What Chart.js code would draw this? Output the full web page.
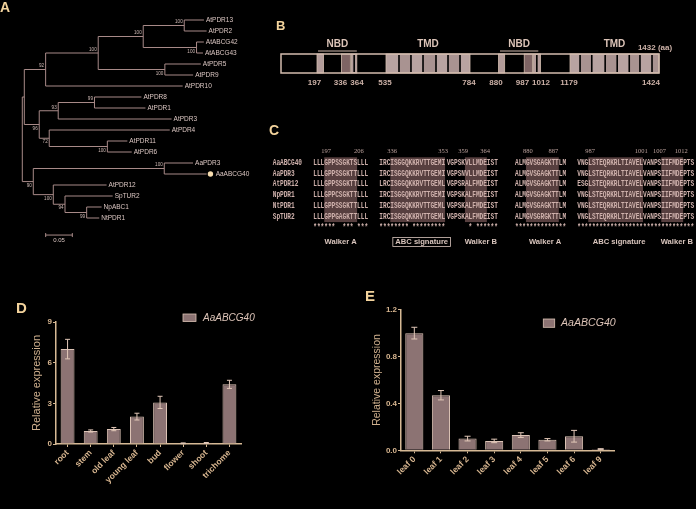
<!DOCTYPE html>
<html><head><meta charset="utf-8">
<script src="https://cdn.jsdelivr.net/npm/chart.js@4.4.1/dist/chart.umd.min.js"></script>
<style>
html,body{margin:0;padding:0;background:#000;}
body{position:relative;width:696px;height:509px;overflow:hidden;}
canvas{position:absolute;}
.pl{position:absolute;font-family:"Liberation Sans",Arial,sans-serif;font-weight:bold;color:#f3d39c;line-height:1;}
</style></head><body>
<canvas id="cA" width="260" height="250" style="left:0;top:0"></canvas>
<canvas id="cB" width="436" height="70" style="left:260px;top:30px"></canvas>
<canvas id="cC" width="436" height="115" style="left:260px;top:140px"></canvas>
<canvas id="cD" width="262" height="219" style="left:0;top:290px"></canvas>
<canvas id="cE" width="346" height="219" style="left:350px;top:290px"></canvas>
<div class="pl" style="left:0px;top:0px;font-size:14px">A</div>
<div class="pl" style="left:276px;top:19px;font-size:13px">B</div>
<div class="pl" style="left:269px;top:123px;font-size:14px">C</div>
<div class="pl" style="left:16px;top:300px;font-size:15px">D</div>
<div class="pl" style="left:365px;top:288px;font-size:15px">E</div>
<script>
// ================= DATA =================
// Panel A: phylogenetic tree (Newick: branch lengths, bootstrap support)
const treeNewick = "((((((AtPDR13:0.037,AtPDR2:0.042)100:0.0769,(AtABCG42:0.0137,AtABCG43:0.012)100:0.100)100:0.0844,(AtPDR5:0.0675,AtPDR9:0.053)100:0.125)100:0.0986,AtPDR10:0.257)92:0.040,(((AtPDR8:0.088,AtPDR1:0.0956)99:0.068,AtPDR3:0.2126)93:0.0356,(AtPDR4:0.226,(AtPDR11:0.0375,AtPDR6:0.0457)100:0.109)72:0.01875)96:0.028):0.00375,((AaPDR3:0.054,AaABCG40:0.0795)100:0.2456,(AtPDR12:0.100,(SpTUR2:0.0894,(NpABC1:0.028,NtPDR1:0.0236)99:0.0406)94:0.022)100:0.0375)90:0.0206);";
const markedLeaf = "AaABCG40";
const scaleBarLength = 0.05;

// Panel B: domain structure (aa positions)
const proteinLength = 1432;
const boundaryTicks = [197, 336, 364, 535, 784, 880, 987, 1012, 1179, 1424];
const nbdSpans = [[210, 362], [892, 1007]];
const tmdSpans = [[535, 784], [1179, 1432]];
const lightBlocks = [[205, 240], [353, 362], [886, 911], [1000, 1010]];
const darkBlocks = [[336, 351], [988, 999]];
const tmStripes = [573.5, 609, 644.7, 683.2, 718.8, 754.4, 1209, 1244, 1284, 1320, 1356, 1388, 1424];
const nbdStripes = [357.5, 1005];
// drawn diagram is not to scale: aa breakpoints and their relative place along the bar
const diagramAa   = [0, 197, 336, 364, 535, 784, 880, 987, 1012, 1179, 1424, 1432];
const diagramFrac = [0, 0.0913, 0.1601, 0.2037, 0.2778, 0.5, 0.5714, 0.6415, 0.6905, 0.7646, 0.9815, 1];

// Panel C: alignment
const seqNames = ["AaABCG40", "AaPDR3", "AtPDR12", "NpPDR1", "NtPDR1", "SpTUR2"];
const seqBlocks = [
  ["LLLGPPSSGKTSLLL", "IRCISGGQKKRVTTGEMI", "VGPSKVLLMDEIST", "ALMGVSGAGKTTLM", "VNGLSTEQRKRLTIAVELVANPSIIFMDEPTS"],
  ["LLLGPPSSGKTTLLL", "IRCISGGQKKRVTTGEMI", "VGPSNVLLMDEIST", "ALMGVSGAGKTTLM", "VNGLSTEQRKRLTIAVELVANPSIIFMDEPTS"],
  ["LLLGPPSSGKTTLLL", "LRCISGGQKKRVTTGEML", "VGPSRALFMDEIST", "ALMGVSGAGKTTLM", "ESGLSTEQRKRLTIAVELVANPSIIFMDEPTS"],
  ["LLLGPPCSGKTTLLL", "IRCISGGQKKRVTTGEMI", "VGPSKALFMDEIST", "ALMGVSGAGKTTLM", "VNGLSTEQRKRLTIAVELVANPSIIFMDEPTS"],
  ["LLLGPPSSGKTTLLL", "IRCISGGQKKRVTTGEML", "VGPSKALFMDEIST", "ALMGVSGAGKTTLM", "VNGLSTEQRKRLTIAVELVANPSIIFMDEPTS"],
  ["LLLGPPGAGKTTLLL", "IRCISGGQKKRVTTGEML", "VGPSKALFMDEIST", "ALMGVSGRGKTTLM", "VNGLSTEQRKRLTIAVELVANPSIIFMDEPTS"]
];
const seqStars = ["******  *** ***", "******** *********", "      * ******", "**************", "********************************"];
const seqNumbers = [[0, 3, "197"], [0, 12, "206"], [1, 3, "336"], [1, 17, "353"], [2, 4, "359"], [2, 10, "364"],
                    [3, 3, "880"], [3, 10, "887"], [4, 3, "987"], [4, 17, "1001"], [4, 22, "1007"], [4, 28, "1012"]];
const shadedCols = [[0, 3, 11], [1, 3, 17], [2, 5, 10], [3, 3, 11], [4, 3, 17], [4, 23, 28]];
const motifLabels = ["Walker A", "ABC signature", "Walker B", "Walker A", "ABC signature", "Walker B"];
const boxedMotif = 1;

// Panel D: tissues
const tissues = ["root", "stem", "old leaf", "young leaf", "bud", "flower", "shoot", "trichome"];
const tissueExpr = [7.0, 0.96, 1.10, 2.02, 3.07, 0.05, 0.08, 4.40];
const tissueErr  = [0.72, 0.08, 0.12, 0.25, 0.45, 0.03, 0.03, 0.30];
const tissueTicks = [0, 3, 6, 9];

// Panel E: leaves
const leaves = ["leaf 0", "leaf 1", "leaf 2", "leaf 3", "leaf 4", "leaf 5", "leaf 6", "leaf 9"];
const leafExpr = [1.00, 0.47, 0.10, 0.08, 0.13, 0.09, 0.12, 0.01];
const leafErr  = [0.05, 0.04, 0.02, 0.015, 0.02, 0.01, 0.05, 0.004];
const leafTicks = [0, 0.4, 0.8, 1.2];

const seriesName = "AaABCG40";

// ================= STYLE / LAYOUT =================
const SANS = '"Liberation Sans", Arial, sans-serif';
Chart.defaults.font.family = SANS;
const AX = '#d6b995', TXT = '#d8b690', BAR = '#8c7373', BAR_EDGE = '#dcc3b5', ERR = '#e2c8b8';
const TREE_LINE = '#a88a88', TREE_TXT = '#dcc7c3';
const C_TXT = '#cfb1ac', C_SHADE = '#573f3f';
const blockStartCols = [0, 18.1, 36.55, 55.26, 72.33];
const motifCols = [7.5, 29.7, 45.9, 63.5, 83.8, 99.6];

function interp(v, xs, ys) {
  if (v <= xs[0]) return ys[0];
  for (let i = 1; i < xs.length; i++) {
    if (v <= xs[i]) return ys[i-1] + (v - xs[i-1]) / (xs[i] - xs[i-1]) * (ys[i] - ys[i-1]);
  }
  return ys[ys.length - 1];
}
class PiecewiseScale extends Chart.LinearScale {
  getPixelForValue(v) { return this.left + interp(v, diagramAa, diagramFrac) * (this.right - this.left); }
}
PiecewiseScale.id = 'piecewise';
PiecewiseScale.defaults = Chart.LinearScale.defaults;
Chart.register(PiecewiseScale);

const baseOpts = {responsive: false, animation: false, devicePixelRatio: 1,
  plugins: {legend: {display: false}, tooltip: {enabled: false}}};

// ================= PANEL A =================
function parseNewick(s) {
  let i = 0;
  function node() {
    const n = {c: []};
    if (s[i] === '(') {
      i++; n.c.push(node());
      while (s[i] === ',') { i++; n.c.push(node()); }
      i++;
    }
    let lab = '';
    while (i < s.length && !':,);'.includes(s[i])) lab += s[i++];
    n.bl = 0;
    if (s[i] === ':') { i++; let num = ''; while (i < s.length && !',);'.includes(s[i])) num += s[i++]; n.bl = parseFloat(num); }
    if (n.c.length) n.bs = lab; else n.name = lab;
    return n;
  }
  return node();
}
const treeRoot = parseNewick(treeNewick);
let leafCounter = 0;
(function lay(n, px) {
  n.px = px; n.x = px + n.bl;
  if (!n.c.length) n.y = leafCounter++;
  else { n.c.forEach((ch, k) => { ch.first = (k === 0); lay(ch, n.x); }); n.y = (n.c[0].y + n.c[n.c.length-1].y) / 2; }
})(treeRoot, 0);

const treePlugin = {id: 'tree', afterDraw(chart) {
  const {ctx, scales: {x, y}} = chart;
  const X = v => x.getPixelForValue(v), Y = v => y.getPixelForValue(v);
  ctx.save();
  ctx.strokeStyle = TREE_LINE; ctx.lineWidth = 1;
  (function draw(n, isRoot) {
    ctx.beginPath();
    if (!isRoot) { ctx.moveTo(X(n.px), Y(n.y)); ctx.lineTo(X(n.x), Y(n.y)); }
    if (n.c.length) { ctx.moveTo(X(n.x), Y(n.c[0].y)); ctx.lineTo(X(n.x), Y(n.c[n.c.length-1].y)); }
    ctx.stroke();
    if (!n.c.length) {
      let lx = X(n.x) + 2;
      if (n.name === markedLeaf) {
        ctx.fillStyle = '#f6dcae'; ctx.beginPath(); ctx.arc(X(n.x) + 3.8, Y(n.y), 2.7, 0, Math.PI*2); ctx.fill();
        lx = X(n.x) + 9;
      }
      ctx.fillStyle = TREE_TXT; ctx.font = '6.5px ' + SANS; ctx.textAlign = 'left'; ctx.textBaseline = 'middle';
      ctx.fillText(n.name, lx, Y(n.y));
    } else {
      if (n.bs) {
        ctx.fillStyle = '#cfb9b5'; ctx.font = '4.6px ' + SANS; ctx.textAlign = 'right'; ctx.textBaseline = 'middle';
        ctx.fillText(n.bs, X(n.x) - 1.5, Y(n.y) + (n.first ? -3.4 : 3.8));
      }
      n.c.forEach(ch => draw(ch, false));
    }
  })(treeRoot, true);
  // scale bar
  const sy = Y(19.55), sx0 = X(0.0438), sx1 = X(0.0438 + scaleBarLength);
  ctx.beginPath(); ctx.moveTo(sx0, sy); ctx.lineTo(sx1, sy);
  ctx.moveTo(sx0, sy - 2); ctx.lineTo(sx0, sy + 2); ctx.moveTo(sx1, sy - 2); ctx.lineTo(sx1, sy + 2); ctx.stroke();
  ctx.fillStyle = TREE_TXT; ctx.font = '6px ' + SANS; ctx.textAlign = 'center'; ctx.textBaseline = 'middle';
  ctx.fillText(String(scaleBarLength), (sx0 + sx1) / 2, sy + 5.5);
  ctx.restore();
}};
new Chart(document.getElementById('cA'), {
  type: 'scatter', data: {datasets: []},
  options: {...baseOpts, layout: {padding: {left: 22.3, right: 24.4, top: 14.5, bottom: 26.5}},
    scales: {x: {type: 'linear', min: 0, max: 0.4, display: false},
             y: {type: 'linear', min: -0.5, max: 18.5, reverse: true, display: false}}},
  plugins: [treePlugin]
});

// ================= PANEL B =================
const domainPlugin = {id: 'domain', afterDraw(chart) {
  const {ctx, chartArea: a, scales: {x}} = chart;
  const X = v => x.getPixelForValue(v);
  const top = a.top, h = a.bottom - a.top;
  const OUT = '#d3bcae', LIGHT = '#b39c9a', DARK = '#7e6464', TM_A = '#b8a3a1', TM_B = '#a99391';
  ctx.save();
  tmdSpans.forEach(([s, e]) => {
    const st = tmStripes.filter(t => t > s && t < e);
    let prev = s;
    [...st, e].forEach((t, k) => { ctx.fillStyle = k % 2 ? TM_B : TM_A; ctx.fillRect(X(prev), top, X(t) - X(prev), h); prev = t; });
    ctx.strokeStyle = OUT; ctx.lineWidth = 0.8; ctx.strokeRect(X(s), top, X(e) - X(s), h);
  });
  [[lightBlocks, LIGHT], [darkBlocks, DARK]].forEach(([blocks, col]) => blocks.forEach(([s, e]) => {
    ctx.fillStyle = col; ctx.fillRect(X(s), top, X(e) - X(s), h);
    ctx.strokeStyle = OUT; ctx.lineWidth = 0.8; ctx.strokeRect(X(s), top, X(e) - X(s), h);
  }));
  ctx.fillStyle = '#000';
  [...tmStripes, ...nbdStripes].forEach(t => ctx.fillRect(X(t) - 0.8, top + 1, 1.6, h - 2));
  ctx.strokeStyle = OUT; ctx.lineWidth = 1.5; ctx.strokeRect(X(0), top, X(proteinLength) - X(0), h);
  // labels
  ctx.fillStyle = '#dcc4b8'; ctx.textAlign = 'center'; ctx.textBaseline = 'middle';
  ctx.font = 'bold 10px ' + SANS;
  nbdSpans.forEach(([s, e]) => {
    ctx.fillText('NBD', (X(s) + X(e)) / 2, top - 10);
    ctx.beginPath(); ctx.strokeStyle = '#cdb5aa'; ctx.lineWidth = 1.2; ctx.moveTo(X(s), top - 3); ctx.lineTo(X(e), top - 3); ctx.stroke();
  });
  tmdSpans.forEach(([s, e]) => ctx.fillText('TMD', (X(s) + X(e)) / 2, top - 10));
  ctx.font = 'bold 8px ' + SANS; ctx.fillStyle = '#cdb2a8';
  boundaryTicks.forEach(v => ctx.fillText(String(v), X(v) - 1, a.bottom + 9.5));
  ctx.fillText(proteinLength + ' (aa)', X(proteinLength) - 4, top - 6.3);
  ctx.restore();
}};
new Chart(document.getElementById('cB'), {
  type: 'scatter', data: {datasets: []},
  options: {...baseOpts, layout: {padding: {left: 21, right: 37, top: 24, bottom: 27}},
    scales: {x: {type: 'piecewise', min: 0, max: proteinLength, display: false},
             y: {type: 'linear', min: 0, max: 1, display: false}}},
  plugins: [domainPlugin]
});

// ================= PANEL C =================
const alignPlugin = {id: 'align', afterDraw(chart) {
  const {ctx, scales: {x, y}} = chart;
  const X = v => x.getPixelForValue(v), Y = v => y.getPixelForValue(v);
  ctx.save();
  ctx.fillStyle = C_SHADE;
  shadedCols.forEach(([b, c0, c1]) => {
    const s = blockStartCols[b];
    ctx.fillRect(X(s + c0), Y(-0.5), X(s + c1 + 1) - X(s + c0), Y(seqNames.length - 0.5) - Y(-0.5));
  });
  ctx.textBaseline = 'middle'; ctx.textAlign = 'center';
  function mono(str, col0, row, color) {
    ctx.fillStyle = color;
    for (let k = 0; k < str.length; k++) {
      if (str[k] === ' ') continue;
      ctx.save(); ctx.translate(X(col0 + k + 0.5), Y(row)); ctx.scale(0.7, 1);
      ctx.fillText(str[k], 0, 0); ctx.restore();
    }
  }
  ctx.font = 'bold 8.8px "Liberation Mono", monospace';
  seqNames.forEach((nm, r) => {
    mono(nm, -11.1, r, C_TXT);
    seqBlocks[r].forEach((blk, b) => mono(blk, blockStartCols[b], r, C_TXT));
  });
  seqStars.forEach((st, b) => mono(st, blockStartCols[b], 6, C_TXT));
  ctx.font = '6.5px "Liberation Serif", serif'; ctx.fillStyle = '#bba19c';
  seqNumbers.forEach(([b, c, t]) => ctx.fillText(t, X(blockStartCols[b] + c + 0.5), Y(-1.02)));
  ctx.font = 'bold 7.6px ' + SANS; ctx.fillStyle = '#d9c5bd';
  motifLabels.forEach((t, k) => {
    const cx = X(motifCols[k]), cy = Y(7.35);
    ctx.fillText(t, cx, cy);
    if (k === boxedMotif) {
      const w = ctx.measureText(t).width + 5;
      ctx.strokeStyle = '#d9c5bd'; ctx.lineWidth = 0.8; ctx.strokeRect(cx - w / 2, cy - 4.5, w, 9);
    }
  });
  ctx.restore();
}};
new Chart(document.getElementById('cC'), {
  type: 'scatter', data: {datasets: []},
  options: {...baseOpts, layout: {padding: {left: 53.3, right: 0, top: 6.5, bottom: 8.1}},
    scales: {x: {type: 'linear', min: 0, max: 104.85, display: false},
             y: {type: 'linear', min: -1.5, max: 7.8, reverse: true, display: false}}},
  plugins: [alignPlugin]
});

// ================= PANELS D, E =================
const errPlugin = {id: 'errbars', afterDatasetsDraw(chart, args, opts) {
  const {ctx, scales: {y}} = chart;
  ctx.save(); ctx.strokeStyle = ERR; ctx.lineWidth = 1;
  chart.data.datasets.forEach((ds, i) => {
    chart.getDatasetMeta(i).data.forEach((bar, j) => {
      const v = ds.data[j], e = ds.errors[j];
      const yt = y.getPixelForValue(v + e), yb = y.getPixelForValue(Math.max(0, v - e));
      ctx.beginPath();
      ctx.moveTo(bar.x, yt); ctx.lineTo(bar.x, yb);
      ctx.moveTo(bar.x - opts.cap, yt); ctx.lineTo(bar.x + opts.cap, yt);
      ctx.moveTo(bar.x - opts.cap, yb); ctx.lineTo(bar.x + opts.cap, yb);
      ctx.stroke();
    });
  });
  ctx.restore();
}};
const legendPlugin = {id: 'legendBox', afterDraw(chart, args, o) {
  const {ctx, chartArea: a} = chart;
  ctx.save();
  ctx.fillStyle = BAR; ctx.fillRect(a.left + o.bx, a.top + o.by, o.bw, o.bh);
  ctx.strokeStyle = BAR_EDGE; ctx.lineWidth = 0.8; ctx.strokeRect(a.left + o.bx, a.top + o.by, o.bw, o.bh);
  ctx.fillStyle = '#dcc3b7'; ctx.font = 'italic ' + o.fs + 'px ' + SANS; ctx.textAlign = 'left'; ctx.textBaseline = 'middle';
  ctx.fillText(chart.data.datasets[0].label, a.left + o.tx, a.top + o.ty);
  ctx.restore();
}};

function barChart(id, labels, values, errs, ticks, fmt, L) {
  return new Chart(document.getElementById(id), {
    type: 'bar',
    data: {labels, datasets: [{label: seriesName, data: values, errors: errs, backgroundColor: BAR,
      borderColor: BAR_EDGE, borderWidth: 1, categoryPercentage: 1, barPercentage: L.bp}]},
    options: {...baseOpts,
      layout: {padding: {left: 0, top: L.top, right: L.right, bottom: 0}},
      plugins: {...baseOpts.plugins, errbars: {cap: L.cap}, legendBox: L.legend},
      scales: {
        x: {grid: {display: true, drawOnChartArea: false, drawTicks: true, tickLength: 3, color: AX, offset: false},
            border: {display: true, color: AX, width: 1.5},
            ticks: {color: TXT, font: {size: L.xfs, weight: 'bold'}, minRotation: 45, maxRotation: 45, autoSkip: false, padding: 1},
            afterFit(s) { s.height = L.xh; }},
        y: {min: ticks[0], max: ticks[ticks.length - 1],
            afterBuildTicks(s) { s.ticks = ticks.map(v => ({value: v})); },
            grid: {display: true, drawOnChartArea: false, drawTicks: true, tickLength: 3, color: AX},
            border: {display: true, color: AX, width: 1.5},
            ticks: {color: TXT, font: {size: 8, weight: 'bold'}, padding: 1, callback: fmt},
            title: {display: true, text: 'Relative expression', color: '#cfb08e', font: {size: L.tfs}, padding: {top: L.tpad, bottom: 0}},
            afterFit(s) { s.width = L.yw; }}
      }},
    plugins: [errPlugin, legendPlugin]
  });
}
barChart('cD', tissues, tissueExpr, tissueErr, tissueTicks, v => String(v),
  {bp: 0.6, top: 32, right: 21, xh: 65, yw: 56, cap: 2.5, xfs: 8.5, tfs: 11, tpad: 30.4,
   legend: {bx: 127, by: -8, bw: 13, bh: 7.5, tx: 147, ty: -4, fs: 10}});
barChart('cE', leaves, leafExpr, leafErr, leafTicks, v => Number(v).toFixed(1),
  {bp: 0.68, top: 19.7, right: 82, xh: 58.7, yw: 51, cap: 3, xfs: 8.5, tfs: 10.5, tpad: 20.7,
   legend: {bx: 142.3, by: 9.3, bw: 11.4, bh: 8.3, tx: 160, ty: 13.6, fs: 10.6}});
</script>
</body></html>
